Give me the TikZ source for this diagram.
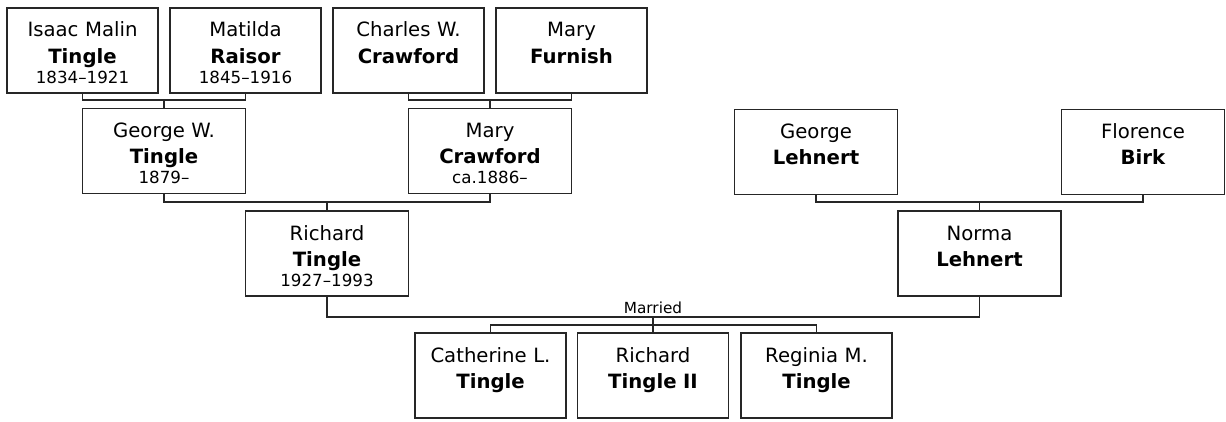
\documentclass[tikz,border=0pt]{standalone}
\usepackage{fontspec}
\setmainfont{DejaVu Sans}
\newcommand{\namefont}{\fontsize{11.2pt}{14.8pt}\selectfont}
\newcommand{\datefont}{\fontsize{9.5pt}{14.8pt}\selectfont}
\newcommand{\notefont}{\fontsize{8.7pt}{10pt}\selectfont}

\tikzset{
	person/.style={draw=black!85, line width=0.024cm, inner sep=0pt, text width=#1, align=center, text height=0.58cm, text depth=1.12cm, font=\namefont},
	person/.default=3.02cm,
	famline/.style={draw=black!85, line width=0.024cm},
}

\begin{document}
\begin{tikzpicture}[x=0.02cm, y=-0.02cm]
	\useasboundingbox (0, 0) rectangle (1226, 422);
	% grandparents
	\node[person](isaac) at (82.5, 50.5){Isaac Malin\\\textbf{Tingle}\\[-0.12cm]{\datefont 1834--1921}};
	\node[person](matilda) at (245.5, 50.5){Matilda\\\textbf{Raisor}\\[-0.12cm]{\datefont 1845--1916}};
	\node[person](charles) at (408.5, 50.5){Charles W.\\\textbf{Crawford}};
	\node[person](furnish) at (571.5, 50.5){Mary\\\textbf{Furnish}};
	% parents
	\node[person=3.26cm](george) at (164, 151){George W.\\\textbf{Tingle}\\[-0.12cm]{\datefont 1879--}};
	\node[person=3.26cm](crawford) at (490, 151){Mary\\\textbf{Crawford}\\[-0.12cm]{\datefont ca.1886--}};
	\node[person=3.26cm](lehnert) at (816, 152){George\\\textbf{Lehnert}};
	\node[person=3.26cm](birk) at (1143, 152){Florence\\\textbf{Birk}};
	% couple
	\node[person=3.26cm](richard) at (327, 253.5){Richard\\\textbf{Tingle}\\[-0.12cm]{\datefont 1927--1993}};
	\node[person=3.26cm](norma) at (979.5, 253.5){Norma\\\textbf{Lehnert}};
	% children
	\node[person](catherine) at (490.5, 375.5){Catherine L.\\\textbf{Tingle}};
	\node[person](richardii) at (653, 375.5){Richard\\\textbf{Tingle II}};
	\node[person](reginia) at (816.5, 375.5){Reginia M.\\\textbf{Tingle}};

	\coordinate (j1) at (164, 100);
	\coordinate (j2) at (490, 100);
	\coordinate (j3) at (327, 202);
	\coordinate (j4) at (979.5, 202);
	\coordinate (j5) at (653, 317);
	\coordinate (j6) at (653, 325);

	\draw[famline] (isaac.south) |- (j1) -| (matilda.south);
	\draw[famline] (j1) -- (george.north);
	\draw[famline] (charles.south) |- (j2) -| (furnish.south);
	\draw[famline] (j2) -- (crawford.north);
	\draw[famline] (george.south) |- (j3) -| (crawford.south);
	\draw[famline] (j3) -- (richard.north);
	\draw[famline] (lehnert.south) |- (j4) -| (birk.south);
	\draw[famline] (j4) -- (norma.north);
	\draw[famline] (richard.south) |- (j5) -| (norma.south);
	\node[anchor=base, inner sep=0pt, font=\notefont](married) at (653, 313){Married};
	\draw[famline] (j5) -- (richardii.north);
	\draw[famline] (catherine.north) |- (j6) -| (reginia.north);
\end{tikzpicture}
\end{document}
